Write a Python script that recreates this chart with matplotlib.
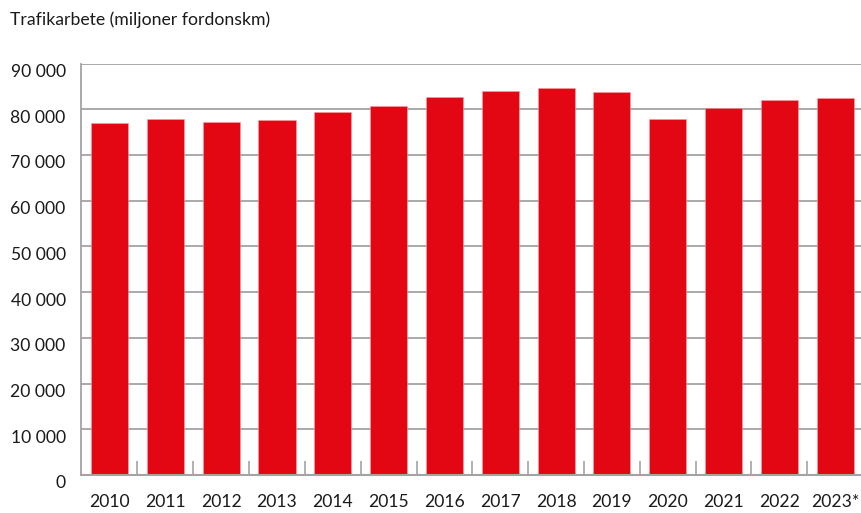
import matplotlib
matplotlib.use("Agg")
import matplotlib.pyplot as plt
from matplotlib.ticker import FuncFormatter, FixedLocator
import matplotlib.transforms as mtransforms

years = ["2010", "2011", "2012", "2013", "2014", "2015", "2016",
         "2017", "2018", "2019", "2020", "2021", "2022", "2023*"]
values = [76900, 77800, 77300, 77750, 79300, 80800, 82700,
          83950, 84600, 83800, 77900, 80200, 82000, 82500]
yticks = list(range(0, 90001, 10000))
title = "Trafikarbete (miljoner fordonskm)"

plt.rcParams['font.family'] = ['Lato', 'DejaVu Sans']

fig = plt.figure(figsize=(8.62, 5.13), dpi=100)
ax = fig.add_axes([81/862, 1-475/513, 1-81/862, (475-63.5)/513])

red = "#E30613"
grid = "#a3a3a3"
x = list(range(len(years)))
ax.bar(x, values, width=0.665, color=red, edgecolor="#f3a0a5", linewidth=0.4, zorder=3)

ax.set_xlim(-0.51, 13.48)
ax.set_ylim(0, 90000)
ax.set_yticks(yticks)
ax.yaxis.set_major_formatter(FuncFormatter(lambda v, p: f"{int(v):,}".replace(",", " ")))
ax.yaxis.grid(True, color=grid, linewidth=1.3, zorder=0)
ax.axhline(0, color=grid, linewidth=1.5, clip_on=False, zorder=4)
ax.set_axisbelow(True)

ax.set_xticks(x)
ax.set_xticklabels(years)
ax.xaxis.set_minor_locator(FixedLocator([i + 0.5 for i in range(13)]))
ax.tick_params(axis='x', which='major', length=0, pad=14, labelsize=12.6, colors="#1a1a1a")
ax.tick_params(axis='x', which='minor', direction='in', length=10, width=1.2, color=grid)
ax.tick_params(axis='y', length=0, pad=11, labelsize=12.6, colors="#1a1a1a")

offset = mtransforms.ScaledTranslation(0, -7/100, fig.dpi_scale_trans)
for lbl in ax.get_yticklabels():
    lbl.set_transform(lbl.get_transform() + offset)

for s in ["top", "right", "bottom"]:
    ax.spines[s].set_visible(False)
ax.spines["left"].set_color(grid)
ax.spines["left"].set_linewidth(1.3)

fig.text(10/862, 1-20/513, title, fontsize=12.7, color="#1a1a1a", va="center", ha="left")

fig.savefig("out.png", dpi=100)
